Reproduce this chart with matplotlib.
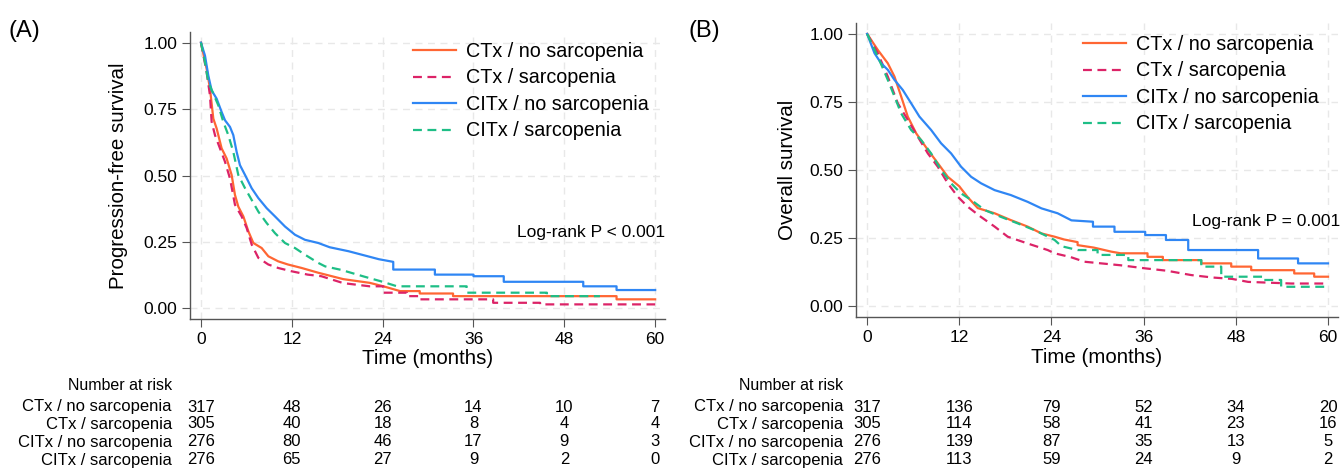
import matplotlib
matplotlib.use('Agg')
from matplotlib import pyplot as plt
from matplotlib import transforms

plt.rcParams['font.family'] = ['Liberation Sans', 'DejaVu Sans']

groups = ['CTx / no sarcopenia', 'CTx / sarcopenia', 'CITx / no sarcopenia', 'CITx / sarcopenia']
colors = ['#FF6633', '#DC2367', '#2F86F4', '#1EBE86']
styles = ['-', (0, (4, 2.5)), '-', (0, (4, 2.5))]
risk_times = [0, 12, 24, 36, 48, 60]

# (A) progression-free survival: curve vertices (months, survival)
pfs_t_ctx_nosarc = [0, 0.75, 1.19, 1.63, 2.07, 2.73, 3.39, 4.05, 4.49, 4.93, 5.6, 6.26, 6.92, 8.02, 8.9,
                    10.2, 11.5, 13.3, 15.5, 18.8, 22.3, 24.1, 26.3, 28.9, 28.9, 33.3, 33.3, 54.9, 54.9, 60]
pfs_s_ctx_nosarc = [1.0, 0.901, 0.827, 0.714, 0.677, 0.602, 0.564, 0.502, 0.427, 0.383, 0.346, 0.29, 0.246,
                    0.227, 0.196, 0.177, 0.165, 0.152, 0.134, 0.11, 0.096, 0.083, 0.065, 0.065, 0.056,
                    0.056, 0.046, 0.046, 0.034, 0.034]
pfs_t_ctx_sarc = [0, 0.75, 1.19, 1.41, 1.85, 2.51, 3.17, 3.83, 4.49, 5.37, 6.04, 6.7, 7.58, 8.9, 10.2,
                  11.9, 14.1, 15.9, 18.8, 22.3, 24.1, 24.1, 27.2, 27.2, 28.9, 28.9, 38.6, 38.6, 44.8,
                  44.8, 60]
pfs_s_ctx_sarc = [1.0, 0.889, 0.801, 0.702, 0.652, 0.602, 0.552, 0.489, 0.39, 0.346, 0.302, 0.24, 0.19,
                  0.165, 0.152, 0.14, 0.127, 0.121, 0.095, 0.083, 0.083, 0.059, 0.059, 0.046, 0.046,
                  0.034, 0.034, 0.021, 0.021, 0.015, 0.015]
pfs_t_citx_nosarc = [0, 0.53, 0.97, 1.41, 2.07, 2.73, 3.17, 3.83, 4.27, 4.71, 5.15, 5.82, 6.7, 7.58, 8.68,
                     9.78, 11.1, 12.42, 13.74, 15.5, 17.0, 19.5, 21.5, 23.5, 25.4, 25.4, 30.9, 30.9,
                     36.0, 36.0, 40.0, 40.0, 50.5, 50.5, 54.9, 54.9, 60]
pfs_s_citx_nosarc = [1.0, 0.951, 0.876, 0.82, 0.789, 0.739, 0.708, 0.683, 0.652, 0.589, 0.539, 0.502,
                     0.452, 0.415, 0.377, 0.346, 0.308, 0.277, 0.258, 0.246, 0.23, 0.215, 0.20, 0.185,
                     0.175, 0.146, 0.146, 0.127, 0.127, 0.121, 0.121, 0.10, 0.10, 0.083, 0.083, 0.069,
                     0.069]
pfs_t_citx_sarc = [0, 0.5, 0.97, 1.63, 2.29, 2.95, 3.61, 4.27, 4.93, 5.82, 6.7, 7.58, 8.68, 9.78, 11.1,
                   12.42, 13.74, 15.5, 16.4, 18.5, 21.5, 24.0, 25.9, 35.1, 35.1, 45.7, 45.7, 52.7]
pfs_s_citx_sarc = [1.0, 0.93, 0.851, 0.808, 0.764, 0.702, 0.652, 0.589, 0.502, 0.452, 0.408, 0.364, 0.321,
                   0.283, 0.246, 0.227, 0.202, 0.171, 0.158, 0.145, 0.12, 0.10, 0.083, 0.083, 0.059,
                   0.059, 0.046, 0.046]

# (B) overall survival
os_t_ctx_nosarc = [0, 1.39, 2.69, 3.56, 4.43, 5.29, 6.38, 7.9, 9.2, 10.5, 12.0, 13.1, 14.4, 16.6, 18.7,
                   20.9, 22.7, 24.4, 25.6, 27.4, 27.4, 29.5, 31.8, 33.0, 36.5, 36.5, 38.5, 38.5, 43.5,
                   43.5, 47.4, 47.4, 50.0, 50.0, 55.6, 55.6, 58.2, 58.2, 60]
os_s_ctx_nosarc = [1.0, 0.941, 0.892, 0.843, 0.77, 0.696, 0.635, 0.574, 0.525, 0.475, 0.44, 0.40, 0.36,
                   0.341, 0.316, 0.292, 0.267, 0.255, 0.245, 0.235, 0.224, 0.215, 0.20, 0.194, 0.194,
                   0.181, 0.181, 0.169, 0.169, 0.157, 0.157, 0.145, 0.145, 0.132, 0.132, 0.12, 0.12,
                   0.108, 0.108]
os_t_ctx_sarc = [0, 1.39, 2.69, 3.99, 5.29, 6.6, 7.9, 9.2, 10.5, 11.8, 13.1, 14.8, 16.6, 18.3, 20.9,
                 23.5, 24.4, 26.5, 28.3, 33.0, 36.1, 39.0, 42.2, 45.0, 47.5, 49.6, 55.2, 60]
os_s_ctx_sarc = [1.0, 0.929, 0.843, 0.745, 0.684, 0.622, 0.561, 0.512, 0.451, 0.402, 0.365, 0.328, 0.292,
                 0.255, 0.23, 0.206, 0.194, 0.18, 0.163, 0.15, 0.139, 0.13, 0.114, 0.105, 0.10, 0.089,
                 0.083, 0.083]
os_t_citx_nosarc = [0, 0.96, 1.82, 2.69, 3.56, 4.64, 5.73, 6.81, 8.33, 9.63, 10.93, 12.23, 13.54, 14.84,
                    16.6, 18.7, 20.9, 22.7, 24.8, 26.6, 29.4, 29.4, 32.2, 32.2, 36.2, 36.2, 38.9, 38.9,
                    41.8, 41.8, 50.9, 50.9, 56.1, 56.1, 60]
os_s_citx_nosarc = [1.0, 0.929, 0.892, 0.868, 0.831, 0.794, 0.745, 0.696, 0.647, 0.598, 0.561, 0.512,
                    0.475, 0.451, 0.426, 0.408, 0.383, 0.359, 0.341, 0.315, 0.31, 0.292, 0.292, 0.273,
                    0.273, 0.261, 0.261, 0.243, 0.243, 0.206, 0.206, 0.175, 0.175, 0.157, 0.157]
os_t_citx_sarc = [0, 1.39, 2.69, 3.56, 4.43, 5.73, 7.03, 8.33, 9.63, 10.93, 12.23, 13.54, 15.3, 17.4,
                  19.6, 21.8, 24.4, 25.3, 27.4, 30.0, 30.0, 34.0, 34.0, 43.5, 43.5, 46.1, 46.1, 51.7,
                  51.7, 53.9, 53.9, 60]
os_s_citx_sarc = [1.0, 0.917, 0.831, 0.77, 0.708, 0.647, 0.61, 0.561, 0.5, 0.451, 0.414, 0.39, 0.353,
                  0.328, 0.304, 0.279, 0.243, 0.22, 0.206, 0.206, 0.188, 0.188, 0.169, 0.169, 0.145,
                  0.145, 0.108, 0.108, 0.096, 0.096, 0.071, 0.071]

pfs_risk = [[317, 48, 26, 14, 10, 7],
            [305, 40, 18, 8, 4, 4],
            [276, 80, 46, 17, 9, 3],
            [276, 65, 27, 9, 2, 0]]
os_risk = [[317, 136, 79, 52, 34, 20],
           [305, 114, 58, 41, 23, 16],
           [276, 139, 87, 35, 13, 5],
           [276, 113, 59, 24, 9, 2]]

W, H = 1344, 472
fig = plt.figure(figsize=(W / 100, H / 100), dpi=100)


def px_box(l, t, r, b):
    return [l / W, 1 - b / H, (r - l) / W, (b - t) / H]


panels = [
    dict(box=px_box(190, 32, 665, 319), ylabel='Progression-free survival', tag='(A)', tag_x=9,
         curves=[(pfs_t_ctx_nosarc, pfs_s_ctx_nosarc), (pfs_t_ctx_sarc, pfs_s_ctx_sarc),
                 (pfs_t_citx_nosarc, pfs_s_citx_nosarc), (pfs_t_citx_sarc, pfs_s_citx_sarc)],
         risk=pfs_risk, ptext='Log-rank P < 0.001', p_y=0.30, p_x=1.0,
         leg=(413, 42), lab_x=172, ylab_x=-0.13),
    dict(box=px_box(856, 23, 1338, 317), ylabel='Overall survival', tag='(B)', tag_x=689,
         curves=[(os_t_ctx_nosarc, os_s_ctx_nosarc), (os_t_ctx_sarc, os_s_ctx_sarc),
                 (os_t_citx_nosarc, os_s_citx_nosarc), (os_t_citx_sarc, os_s_citx_sarc)],
         risk=os_risk, ptext='Log-rank P = 0.001', p_y=0.324, p_x=1.004,
         leg=(1083, 35), lab_x=843, ylab_x=-0.123),
]

row_y = [385, 407, 424, 442, 460]
narrow = ['Liberation Sans Narrow', 'Liberation Sans', 'DejaVu Sans']

for p in panels:
    ax = fig.add_axes(p['box'])
    for (t, s), c, ls, g in zip(p['curves'], colors, styles, groups):
        ax.plot(t, s, color=c, linestyle=ls, lw=1.6, label=g)
    ax.set_xlim(-1.45, 61.3)
    ax.set_ylim(-0.04, 1.04)
    ax.set_xticks(risk_times)
    ax.set_yticks([0, 0.25, 0.5, 0.75, 1.0])
    ax.set_yticklabels(['0.00', '0.25', '0.50', '0.75', '1.00'])
    ax.grid(True, color='#E8E8E8', linestyle=(0, (5, 4)), lw=1)
    ax.set_axisbelow(True)
    for sp in ['top', 'right']:
        ax.spines[sp].set_visible(False)
    for sp in ['left', 'bottom']:
        ax.spines[sp].set_color('#555555')
        ax.spines[sp].set_linewidth(1.0)
    ax.tick_params(direction='out', length=6, color='#555555', labelsize=12.5, pad=3)
    ax.set_xlabel('Time (months)', fontsize=14.8)
    ax.xaxis.set_label_coords(0.5, -0.105)
    ax.set_ylabel(p['ylabel'], fontsize=14.8)
    ax.yaxis.set_label_coords(p['ylab_x'], 0.5)
    ax.text(p['p_x'], p['p_y'], p['ptext'], transform=ax.transAxes, ha='right', va='center', fontsize=12.5)
    lx, ly = p['leg']
    ax.legend(loc='upper left', bbox_to_anchor=(lx / W, 1 - ly / H), bbox_transform=fig.transFigure,
              frameon=False, fontsize=14.2, handlelength=2.2, handletextpad=0.5, labelspacing=0.38,
              borderpad=0, borderaxespad=0)
    fig.text(p['tag_x'] / W, 1 - 31 / H, p['tag'], fontsize=17, va='center', ha='left')

    # number at risk table
    tr = transforms.blended_transform_factory(ax.transData, fig.transFigure)
    fig.text(p['lab_x'] / W, 1 - row_y[0] / H, 'Number at risk', ha='right', va='center',
             fontsize=11.5, family=narrow)
    for i, g in enumerate(groups):
        y = 1 - row_y[i + 1] / H
        fig.text(p['lab_x'] / W, y, g, ha='right', va='center', fontsize=12, family=narrow)
        for tt, n in zip(risk_times, p['risk'][i]):
            ax.text(tt, y, str(n), transform=tr, ha='center', va='center', fontsize=12,
                    family=narrow, clip_on=False)

fig.savefig('out.png', dpi=100)
